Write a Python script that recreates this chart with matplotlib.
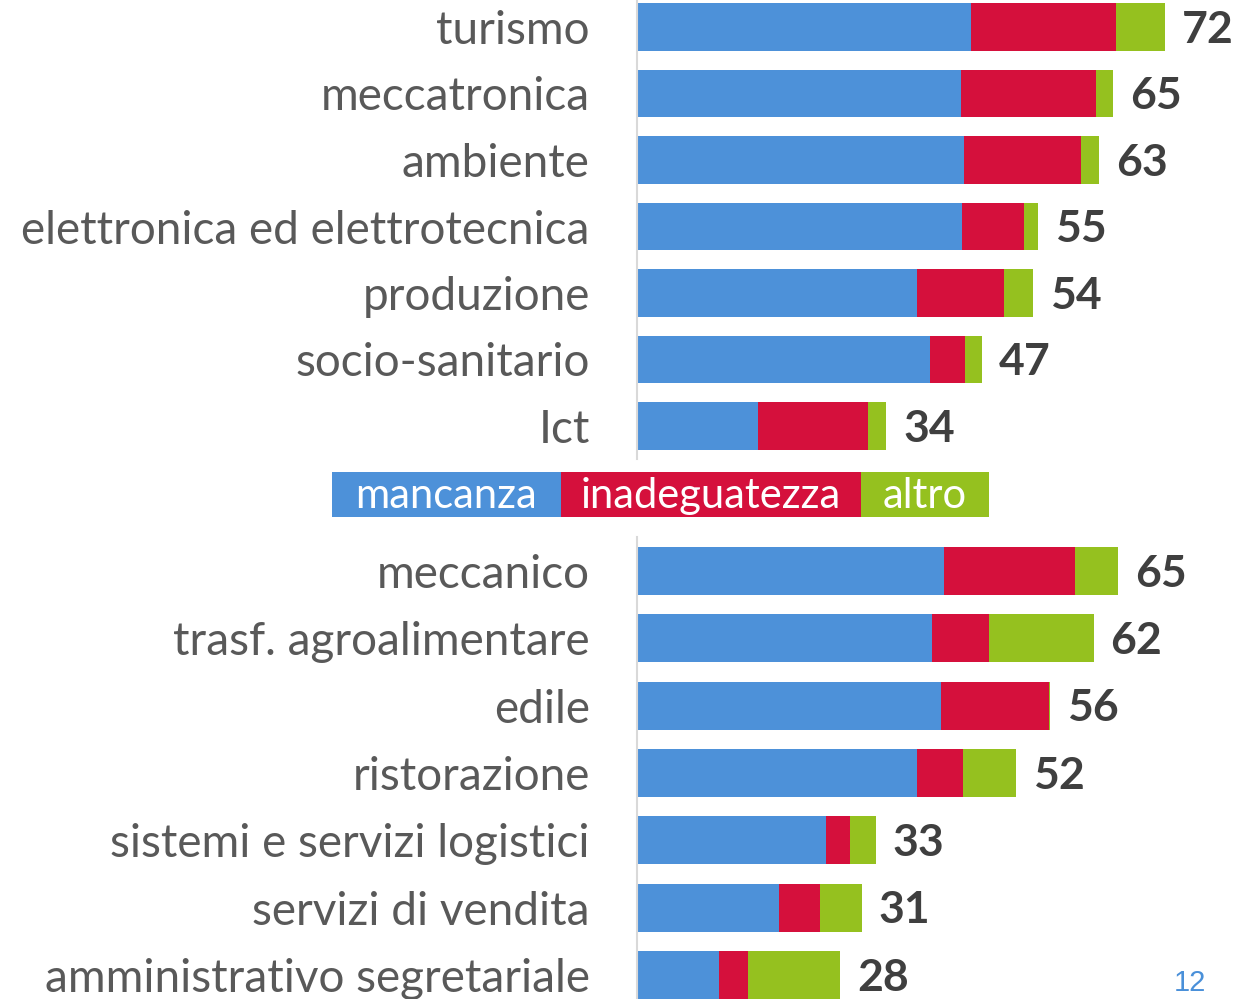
import matplotlib
matplotlib.use("Agg")
import matplotlib.pyplot as plt
from matplotlib.patches import Rectangle

# dati (valori in %)
cat_top = ["turismo", "meccatronica", "ambiente", "elettronica ed elettrotecnica",
           "produzione", "socio-sanitario", "Ict"]
man_top = [45.5, 44.2, 44.6, 44.3, 38.2, 40.0, 16.5]
ina_top = [19.8, 18.4, 16.0, 8.5, 11.9, 4.7, 15.0]
alt_top = [6.7, 2.4, 2.4, 1.9, 3.9, 2.3, 2.5]
tot_top = [72, 65, 63, 55, 54, 47, 34]

cat_bot = ["meccanico", "trasf. agroalimentare", "edile", "ristorazione",
           "sistemi e servizi logistici", "servizi di vendita",
           "amministrativo segretariale"]
man_bot = [41.9, 40.2, 41.5, 38.2, 25.8, 19.4, 11.2]
ina_bot = [17.9, 7.8, 14.7, 6.3, 3.3, 5.6, 3.9]
alt_bot = [5.8, 14.3, 0.1, 7.2, 3.5, 5.7, 12.6]
tot_bot = [65, 62, 56, 52, 33, 31, 28]

legenda = ["mancanza", "inadeguatezza", "altro"]
colori = ["#4D91D9", "#D5103C", "#95C11F"]

FONT = "Lato"
W, H = 1256, 999
fig = plt.figure(figsize=(W / 100, H / 100), dpi=100)


def pannello(rect, cat, man, ina, alt, tot):
    ax = fig.add_axes(rect)
    y = list(range(len(cat)))
    lefts = [0] * len(cat)
    for serie, col in zip([man, ina, alt], colori):
        ax.barh(y, serie, left=lefts, height=0.71, color=col, linewidth=0)
        lefts = [a + b for a, b in zip(lefts, serie)]
    for yi, xe, t in zip(y, lefts, tot):
        ax.text(xe + 2.3, yi + 0.04, str(t), va="center", ha="left",
                fontsize=32, fontweight="bold", color="#3F3F3F", family=FONT)
    ax.set_xlim(0, (W - 637) / 7.33)
    ax.set_ylim(len(cat) - 0.5, -0.5)
    ax.set_yticks(y)
    ax.set_yticklabels(cat, fontsize=33, color="#595959", family=FONT)
    ax.tick_params(axis="y", length=0, pad=34)
    ax.set_xticks([])
    for s in ["top", "right", "bottom"]:
        ax.spines[s].set_visible(False)
    ax.spines["left"].set_color("#D9D9D9")
    ax.spines["left"].set_linewidth(1.5)
    ax.patch.set_alpha(0)
    return ax


pannello([637 / W, (H - 459.25) / H, (W - 637) / W, 465.5 / H],
         cat_top, man_top, ina_top, alt_top, tot_top)
pannello([637 / W, (H - 1008.7) / H, (W - 637) / W, 471.4 / H],
         cat_bot, man_bot, ina_bot, alt_bot, tot_bot)

# legenda a blocchi colorati
bordi = [332, 561, 861, 989]
for i, (lab, col) in enumerate(zip(legenda, colori)):
    x0, x1 = bordi[i], bordi[i + 1]
    fig.patches.append(Rectangle((x0 / W, (H - 517) / H), (x1 - x0) / W, 45 / H,
                                 transform=fig.transFigure, color=col, linewidth=0))
    fig.text((x0 + x1) / 2 / W, (H - 496) / H, lab, ha="center", va="center",
             fontsize=30, color="white", family=FONT)

# numero di pagina
fig.text(1190 / W, (H - 983) / H, "12", ha="center", va="center",
         fontsize=21, color="#4A90D9", family="Liberation Sans")

fig.savefig("out.png", dpi=100)
